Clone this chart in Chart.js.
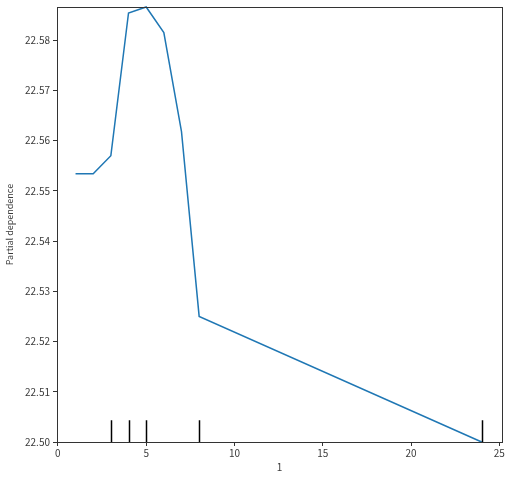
<!DOCTYPE html>
<html>
<head>
<meta charset="utf-8">
<script src="https://cdn.jsdelivr.net/npm/chart.js@4"></script>
<style>
html,body{margin:0;padding:0;background:#fff;}
#wrap{width:511px;height:478px;position:relative;}
</style>
</head>
<body>
<div id="wrap"><canvas id="c" width="511" height="478"></canvas></div>
<script>
const xValues = [1, 2, 3, 4, 5, 6, 7, 8, 24];
const pdValues = [22.5534, 22.5534, 22.5570, 22.5854, 22.5866, 22.5815, 22.5618, 22.5250, 22.5000];
const decileValues = [3, 4, 5, 8, 24];
const xTicks = [0, 5, 10, 15, 20, 25];
const yTicks = [22.50, 22.51, 22.52, 22.53, 22.54, 22.55, 22.56, 22.57, 22.58];
const xLabel = "1";
const yLabel = "Partial dependence";

const FONT = "'Noto Sans CJK KR', 'Noto Sans', sans-serif";
const TEXT = '#3a3a3a';

const framePlugin = {
  id: 'frame',
  afterDatasetsDraw(chart) {
    const {ctx, chartArea: a, scales} = chart;
    ctx.save();
    ctx.strokeStyle = '#000000';
    ctx.lineWidth = 1.5;
    const h = (a.bottom - a.top) * 0.05;
    decileValues.forEach(v => {
      const px = Math.round(scales.x.getPixelForValue(v)) + 0.5;
      ctx.beginPath();
      ctx.moveTo(px, a.bottom);
      ctx.lineTo(px, a.bottom - h);
      ctx.stroke();
    });
    ctx.strokeStyle = '#333333';
    ctx.lineWidth = 1;
    ctx.strokeRect(Math.round(a.left) + 0.5, Math.round(a.top) + 0.5,
      Math.round(a.right - a.left), Math.round(a.bottom - a.top));
    ctx.restore();
  }
};

new Chart(document.getElementById('c'), {
  type: 'line',
  data: {
    datasets: [{
      data: xValues.map((x, i) => ({x: x, y: pdValues[i]})),
      borderColor: '#1f77b4',
      borderWidth: 1.5,
      pointRadius: 0,
      tension: 0,
      fill: false,
      clip: false
    }]
  },
  options: {
    responsive: false,
    animation: false,
    devicePixelRatio: 1,
    layout: {padding: {top: 7, right: 9, left: 0, bottom: 0}},
    plugins: {legend: {display: false}, tooltip: {enabled: false}},
    scales: {
      x: {
        type: 'linear',
        min: -0.05,
        max: 25.15,
        afterBuildTicks: ax => { ax.ticks = xTicks.map(v => ({value: v})); },
        afterFit: ax => { ax.height = 36; ax.paddingLeft = 0; ax.paddingRight = 0; },
        border: {display: true, color: '#333333'},
        grid: {display: true, drawOnChartArea: false, drawTicks: true, tickLength: 4, color: '#333333'},
        ticks: {color: TEXT, font: {family: FONT, size: 10}, padding: 1, maxRotation: 0,
          callback: v => String(v)},
        title: {display: true, text: xLabel, color: TEXT, font: {family: FONT, size: 10}, padding: {top: 1, bottom: 5}}
      },
      y: {
        type: 'linear',
        min: 22.50,
        max: 22.5866,
        afterBuildTicks: ax => { ax.ticks = yTicks.map(v => ({value: v})); },
        afterFit: ax => { ax.width = 57; ax.paddingTop = 0; ax.paddingBottom = 0; },
        border: {display: true, color: '#333333'},
        grid: {display: true, drawOnChartArea: false, drawTicks: true, tickLength: 4, color: '#333333'},
        ticks: {color: TEXT, font: {family: FONT, size: 10}, padding: 3,
          callback: v => Number(v).toFixed(2)},
        title: {display: true, text: yLabel, color: TEXT, font: {family: FONT, size: 9}, padding: {top: 4, bottom: 0}}
      }
    }
  },
  plugins: [framePlugin]
});
</script>
</body>
</html>
